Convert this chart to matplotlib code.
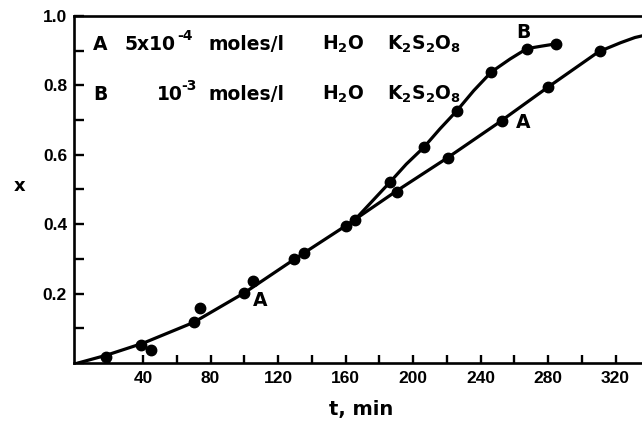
import matplotlib
matplotlib.use('Agg')
import matplotlib.pyplot as plt
from matplotlib.ticker import MultipleLocator, FixedLocator, FixedFormatter

# measured points (t in min, x = conversion)
a_t = [18, 39, 45, 70, 74, 100, 105, 129.5, 135.5, 160.5, 165.5, 190.5, 221, 252.5, 280, 311]
a_x = [0.018, 0.052, 0.037, 0.117, 0.159, 0.202, 0.237, 0.301, 0.318, 0.394, 0.413, 0.494, 0.591, 0.696, 0.796, 0.900]
b_t = [186.5, 206.5, 226, 246.5, 267.5, 285]
b_x = [0.522, 0.622, 0.727, 0.839, 0.906, 0.920]

# hand drawn curves
curve_a_t = [1.5, 18, 40, 70, 100, 130, 160, 190, 220, 250, 280, 310, 323, 331.5, 336]
curve_a_x = [0.0, 0.022, 0.057, 0.117, 0.202, 0.300, 0.395, 0.495, 0.590, 0.690, 0.795, 0.897, 0.923, 0.938, 0.943]
curve_b_t = [165, 175, 186.5, 196, 206.5, 216, 226, 236, 246.5, 257.5, 267.5, 276, 285]
curve_b_x = [0.410, 0.462, 0.522, 0.573, 0.622, 0.675, 0.727, 0.785, 0.839, 0.876, 0.906, 0.913, 0.920]

x_ticks = [40, 80, 120, 160, 200, 240, 280, 320]
x_minor = [20, 60, 100, 140, 180, 220, 260, 300]
y_ticks = [0.2, 0.4, 0.6, 0.8, 1.0]

plt.rcParams['font.family'] = ['Liberation Sans', 'DejaVu Sans']
plt.rcParams['font.weight'] = 'bold'
plt.rcParams['mathtext.fontset'] = 'custom'
plt.rcParams['mathtext.rm'] = 'DejaVu Sans:bold'
plt.rcParams['mathtext.bf'] = 'DejaVu Sans:bold'
plt.rcParams['mathtext.it'] = 'DejaVu Sans:bold'
LBL = ['DejaVu Sans']

W, H = 642, 421
fig = plt.figure(figsize=(W / 100, H / 100), dpi=100)
left, right, top, bottom = 74, 642, 16, 363
ax = fig.add_axes([left / W, 1 - bottom / H, (right - left) / W, (bottom - top) / H])


def px(x, y):
    return x / W, 1 - y / H


ax.plot(curve_a_t, curve_a_x, color='black', lw=2.3, solid_capstyle='round')
ax.plot(curve_b_t, curve_b_x, color='black', lw=2.3, solid_capstyle='round')
ax.plot(a_t, a_x, 'o', color='black', ms=7.5)
ax.plot(b_t, b_x, 'o', color='black', ms=7.5)

ax.set_xlim(-0.9, 335.7)
ax.set_ylim(0, 1.0)

for s in ['left', 'bottom', 'top']:
    ax.spines[s].set_linewidth(1.9)
ax.spines['right'].set_visible(False)

ax.xaxis.set_major_locator(FixedLocator(x_ticks))
ax.xaxis.set_minor_locator(FixedLocator(x_minor))
ax.yaxis.set_major_locator(FixedLocator(y_ticks))
ax.yaxis.set_minor_locator(MultipleLocator(0.1))
ax.yaxis.set_major_formatter(FixedFormatter([f'{v:.1f}' for v in y_ticks]))
ax.tick_params(which='both', direction='in', width=1.7, labelsize=12.5)
ax.tick_params(axis='x', which='both', length=6, pad=6)
ax.tick_params(axis='y', which='both', length=7, pad=5)
ax.tick_params(top=False, right=False)

fig.text(*px(20, 186), 'x', fontsize=13, family=LBL, ha='center', va='center')
fig.text(*px(361, 410), 't, min', fontsize=14, family=LBL, ha='center', va='center')

# key text
row_a, row_b = 44, 94
fs = 13.5
sup = 10
fig.text(*px(93, row_a), 'A', fontsize=fs, family=LBL, va='center')
fig.text(*px(125, row_a), '5x10', fontsize=fs, family=LBL, va='center')
fig.text(*px(177, row_a - 8), '-4', fontsize=sup, family=LBL, va='center')
fig.text(*px(209, row_a), 'moles/l', fontsize=fs, family=LBL, va='center')
fig.text(*px(322, row_a), r'H$_2$O', fontsize=fs, family=LBL, va='center')
fig.text(*px(387, row_a), r'K$_2$S$_2$O$_8$', fontsize=fs, family=LBL, va='center')
fig.text(*px(93, row_b), 'B', fontsize=fs, family=LBL, va='center')
fig.text(*px(157, row_b), '10', fontsize=fs, family=LBL, va='center')
fig.text(*px(181, row_b - 8), '-3', fontsize=sup, family=LBL, va='center')
fig.text(*px(209, row_b), 'moles/l', fontsize=fs, family=LBL, va='center')
fig.text(*px(322, row_b), r'H$_2$O', fontsize=fs, family=LBL, va='center')
fig.text(*px(387, row_b), r'K$_2$S$_2$O$_8$', fontsize=fs, family=LBL, va='center')

# curve labels
fig.text(*px(523, 33), 'B', fontsize=fs, family=LBL, ha='center', va='center')
fig.text(*px(523, 122), 'A', fontsize=fs, family=LBL, ha='center', va='center')
fig.text(*px(260, 300), 'A', fontsize=fs, family=LBL, ha='center', va='center')

fig.savefig('out.png', dpi=100)
